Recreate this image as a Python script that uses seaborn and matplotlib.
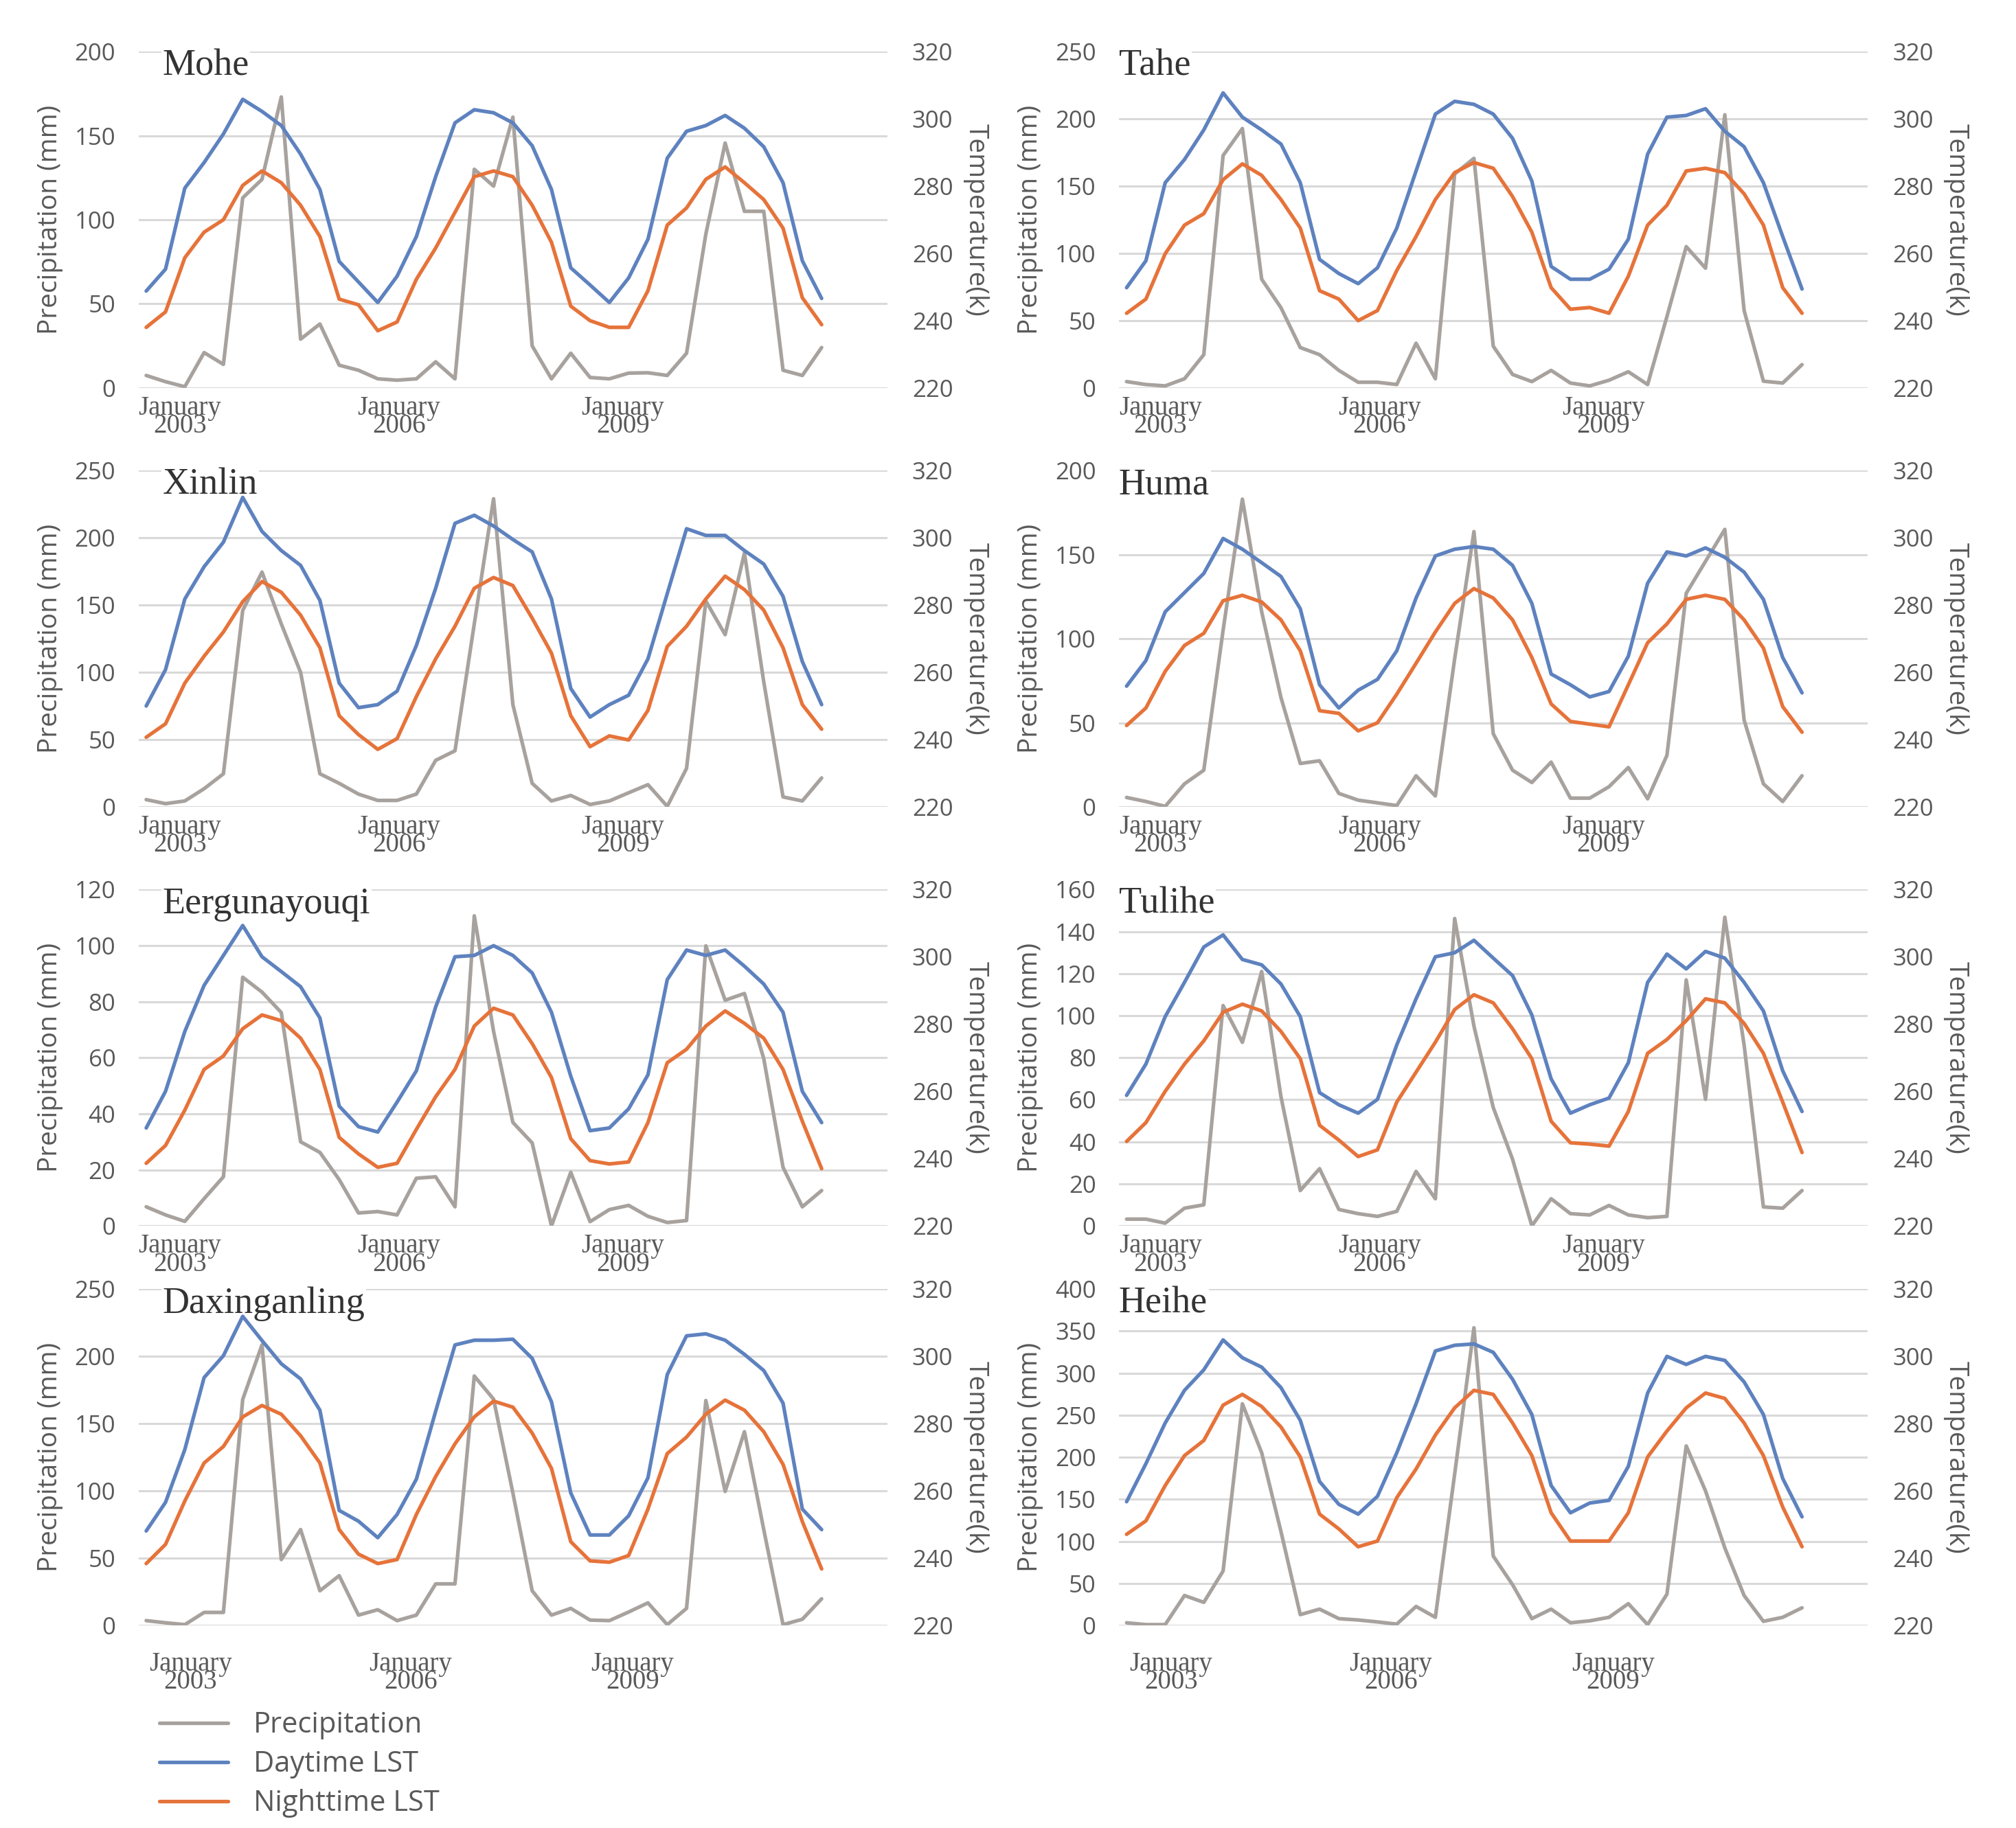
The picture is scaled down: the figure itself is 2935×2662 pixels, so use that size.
import numpy as np
import pandas as pd
import seaborn as sns
import matplotlib.pyplot as plt
from matplotlib.lines import Line2D

# monthly series for each station (36 steps, labelled every 3rd January)
tick_labels = ["January\n2003", "January\n2006", "January\n2009"]

mohe_precip = [7.4, 3.7, 0.7, 21, 14, 113, 124, 173, 29, 38, 13.5, 10.5, 5.4, 4.6, 5.4, 15.5, 5.4, 130,
               120, 161, 25, 5.4, 20.6, 6.2, 5.4, 8.8, 9, 7.4, 20.6, 91.5, 145.6, 105, 105, 10.5, 7.4, 24]
mohe_day = [248.8, 255.3, 279.4, 287, 295.5, 305.8, 302.2, 298, 289.5, 279, 257.6, 251.5, 245.4, 253.2,
            265, 282.8, 298.8, 302.7, 301.8, 298.8, 292, 279, 255.7, 250.6, 245.4, 252.7, 264.2, 288.3,
            296.3, 298, 301, 297.2, 291.7, 281, 257.8, 246.6]
mohe_night = [238, 242.6, 258.7, 266.3, 270, 280.2, 284.5, 281, 274.3, 265, 246.4, 244.7, 237, 239.6,
              252.3, 261.6, 272.2, 282.8, 284.5, 282.8, 274.3, 263.3, 244.3, 240, 238, 238, 248.9, 268.4,
              273.5, 282, 285.7, 281, 276, 267.5, 246.8, 238.8]

tahe_precip = [4.7, 2.5, 1.5, 6.8, 24.7, 172.7, 192.8, 80.8, 59.6, 30, 24.7, 13, 4.2, 4.2, 2.5, 33.2, 6.8,
               159, 170.6, 31, 10, 4.7, 13, 3.6, 1.5, 5.7, 12, 2.5, 53, 105, 89, 203, 57.5, 5, 3.6, 17.3]
tahe_day = [249.8, 257.8, 281, 287.9, 296.7, 307.7, 300.5, 296.7, 292.5, 281, 258.2, 254, 251, 255.7,
            267.5, 284.5, 301.4, 305.2, 304.3, 301.4, 294.2, 281.5, 256.1, 252.3, 252.3, 255.3, 264.2,
            289.5, 300.5, 301, 303, 296.3, 291.7, 281, 265, 249.4]
tahe_night = [242.2, 246.4, 259.9, 268.4, 271.8, 281.9, 286.6, 283.2, 276, 267.5, 248.9, 246.4, 240, 243,
              254.9, 265, 276, 284, 287, 285.3, 276.9, 266.3, 249.8, 243.4, 243.9, 242.2, 253.2, 268.4,
              274.3, 284.5, 285.3, 284, 277.7, 268.4, 249.8, 242.2]

xinlin_precip = [5.4, 2.4, 4.4, 13.5, 24.6, 146, 174.5, 136, 100, 24.6, 17.5, 9.5, 4.8, 4.8, 9.5, 34.6,
                 41.7, 136, 229, 76, 17.5, 4.4, 8.5, 1.8, 4.4, 10.5, 16.5, 0.4, 28.6, 153, 128, 188.6, 93,
                 7.4, 4.4, 21.5]
xinlin_day = [250, 260.8, 281.8, 291.4, 298.7, 312, 301.9, 296.2, 291.8, 281.4, 256.8, 249.5, 250.4, 254.4,
              268, 285, 304.3, 306.7, 303.5, 299.5, 295.8, 281.8, 255.2, 246.7, 250.4, 253.2, 264, 283.4,
              302.7, 300.7, 300.7, 296.2, 292.2, 282.6, 263.2, 250.4]
xinlin_night = [240.7, 244.7, 256.8, 264.8, 272, 281, 287, 283.8, 277, 267.3, 247.1, 241.5, 237.1, 240.3,
                252.8, 264, 273.7, 285, 288.2, 285.8, 276.1, 265.7, 247.1, 237.9, 241.1, 239.9, 248.7,
                267.7, 273.7, 281.8, 288.6, 284.6, 278.5, 267.3, 250.4, 243.1]

huma_precip = [5.6, 3.2, 0.3, 13.7, 21.8, 105, 183, 116, 65, 25.8, 27.4, 8, 4, 2.4, 0.8, 18.5, 6.5, 88,
               163.7, 43.5, 21.8, 14.5, 26.6, 5.2, 5.2, 12, 23.4, 4.8, 30.6, 127, 146, 165, 51.6, 13.7,
               3.2, 18.5]
huma_day = [255.9, 263.5, 278, 283.7, 289.4, 299.8, 296.6, 292.6, 288.5, 278.9, 256.3, 249.4, 254.7, 257.9,
            266.4, 282.1, 294.6, 296.6, 297.4, 296.6, 291.8, 280.5, 259.5, 256.3, 252.7, 254.3, 264.8,
            286.5, 295.8, 294.6, 297, 294.2, 289.8, 281.7, 264.4, 253.9]
huma_night = [244.2, 249.4, 260.3, 268, 271.6, 281.3, 282.9, 280.9, 275.6, 266.4, 248.6, 247.8, 242.6, 245,
              253.5, 262.7, 272, 280.5, 284.9, 282.1, 275.6, 264.4, 250.6, 245.4, 244.6, 243.8, 256.3,
              268.8, 274.4, 281.7, 282.9, 281.7, 275.6, 267.2, 249.8, 242.2]

eerg_precip = [6.8, 3.9, 1.6, 9.7, 17.5, 88.7, 83.4, 76.1, 30, 26.2, 16.5, 4.6, 5.1, 3.9, 17, 17.5, 6.8,
               110.6, 69.4, 36.9, 29.6, 0, 19.1, 1.5, 5.8, 7.3, 3.4, 1.2, 1.9, 99.9, 80.5, 82.9, 59.7, 20.9,
               6.8, 12.6]
eerg_day = [249.1, 260, 277.8, 291.5, 300.4, 309.3, 300, 295.6, 291.1, 281.8, 255.6, 249.5, 247.9, 256.8,
            266.1, 285.1, 300, 300.4, 303.3, 300.4, 295.2, 283.5, 264.5, 248.3, 249.1, 254.8, 264.9, 293.2,
            302, 300.4, 302, 297.2, 291.9, 283.5, 260, 250.7]
eerg_night = [238.6, 243.9, 254.4, 266.5, 270.5, 278.6, 282.7, 281, 275.8, 266.5, 246.3, 241.4, 237.4,
              238.6, 248.7, 258.4, 266.5, 279.4, 284.7, 282.7, 274.2, 264.1, 245.9, 239.4, 238.4, 239,
              250.7, 268.5, 272.5, 279.4, 283.9, 280.2, 275.8, 266.5, 251.1, 237]

tulihe_precip = [3.2, 3.2, 1.3, 8.4, 10, 104.8, 87.3, 121, 61.4, 16.8, 27.2, 7.8, 5.8, 4.5, 6.9, 25.9, 12.9,
                 146.2, 95, 56.3, 31.7, 0, 12.9, 5.8, 5.2, 9.7, 5.2, 3.9, 4.5, 117, 60.2, 146.8, 86, 9,
                 8.4, 16.8]
tulihe_day = [258.8, 268.1, 282.2, 292.4, 302.9, 306.5, 299.2, 297.6, 291.9, 282.2, 259.6, 256, 253.5,
              257.6, 273.8, 287.5, 300, 301.2, 304.9, 299.6, 294.4, 282.7, 263.7, 253.5, 256, 258, 268.5,
              292.4, 300.8, 296.4, 301.6, 299.6, 292.4, 283.9, 266.1, 254]
tulihe_night = [245.1, 250.7, 260, 268.1, 275, 283.5, 285.9, 283.9, 277.8, 269.7, 249.9, 245.5, 240.6,
                242.6, 256.8, 265.7, 274.6, 284.3, 288.7, 286.3, 278.6, 269.7, 251.1, 244.7, 244.3, 243.7,
                254, 271.3, 275.4, 281, 287.5, 286.3, 280.2, 271.3, 256.8, 241.8]

daxing_precip = [3.6, 2, 0.6, 9.7, 9.7, 168, 208.6, 49, 71.3, 25.8, 37, 7.7, 11.7, 3.6, 7.7, 30.9, 30.9,
                 185.4, 168.2, 98.5, 25.8, 7.7, 12.7, 4, 3.6, 10, 16.8, 0.6, 12.7, 167.2, 99.6, 144, 71.3,
                 0.6, 4.6, 19.8]
daxing_day = [248.1, 256.6, 272.3, 293.7, 300.2, 311.9, 304.7, 297.8, 293.3, 284, 254.2, 251, 246.1, 253,
              263.5, 283.7, 303.4, 304.8, 304.8, 305.1, 299.4, 286.5, 259.4, 246.9, 246.9, 252.6, 263.9,
              294.6, 306.1, 306.7, 304.8, 300.6, 295.8, 286.1, 254.6, 248.5]
daxing_night = [238.4, 244.1, 257, 268.3, 273.2, 282, 285.4, 282.8, 276.4, 268.3, 248.5, 241.2, 238.4,
                239.6, 253, 264.3, 274, 282, 286.7, 284.9, 277.2, 266.7, 244.9, 239.2, 238.8, 240.8, 254.6,
                271.1, 276, 282.8, 287, 284, 277.6, 267.9, 250.9, 236.8]

heihe_precip = [3.2, 1, 1, 35.6, 27.5, 64.7, 263.6, 205.4, 111.6, 12.9, 19.4, 8.1, 6.5, 4.2, 1.6, 22.6,
                9.7, 180, 354, 82.5, 48.5, 8.1, 19.4, 3.2, 5.5, 9.7, 25.9, 1, 37.2, 213.5, 160, 92.2, 35.6,
                4.9, 9.7, 21]
heihe_day = [256.8, 268.1, 280.2, 289.9, 296, 304.9, 299.6, 296.8, 290.7, 281, 262.8, 256, 253.1, 258.4,
             271.3, 285.9, 301.6, 303.3, 303.7, 301.2, 293.2, 282.7, 261.6, 253.5, 256.4, 257.2, 267.3,
             289.1, 300, 297.6, 300, 298.8, 292.4, 282.7, 263.7, 252.3]
heihe_night = [247.1, 251.1, 261.6, 270.5, 275, 285.5, 288.7, 285.1, 279, 270.1, 253.1, 248.7, 243.4,
               245.1, 258, 266.5, 276.6, 284.7, 289.9, 288.7, 280.2, 270.5, 253.5, 245.1, 245.1, 245.1,
               253.5, 270.1, 277.8, 284.7, 289.1, 287.5, 280.2, 270.5, 255.2, 243.4]

# station name, data, left axis max and step
stations = [
    ("Mohe", mohe_precip, mohe_day, mohe_night, 200, 50),
    ("Tahe", tahe_precip, tahe_day, tahe_night, 250, 50),
    ("Xinlin", xinlin_precip, xinlin_day, xinlin_night, 250, 50),
    ("Huma", huma_precip, huma_day, huma_night, 200, 50),
    ("Eergunayouqi", eerg_precip, eerg_day, eerg_night, 120, 20),
    ("Tulihe", tulihe_precip, tulihe_day, tulihe_night, 160, 20),
    ("Daxinganling", daxing_precip, daxing_day, daxing_night, 250, 50),
    ("Heihe", heihe_precip, heihe_day, heihe_night, 400, 50),
]

c_precip = "#A8A29E"
c_day = "#5E82BF"
c_night = "#E6733A"
c_text = "#595959"
lw = 3.8

sns.set_theme(style="white")
plt.rcParams['font.family'] = ['Open Sans', 'DejaVu Sans']

fig = plt.figure(figsize=(29.35, 26.62), dpi=100)

lefts = [0.0687, 0.555]
bottoms = [0.7878, 0.5586, 0.3294, 0.1108]
w, h = 0.3714, 0.184

for k, (name, precip, day, night, ymax, ystep) in enumerate(stations):
    row, col = divmod(k, 2)
    ax = fig.add_axes([lefts[col], bottoms[row], w, h])
    ax2 = ax.twinx()

    df = pd.DataFrame({"month": np.arange(len(precip)), "precip": precip,
                       "day": day, "night": night})

    sns.lineplot(data=df, x="month", y="precip", ax=ax, color=c_precip, linewidth=lw)
    sns.lineplot(data=df, x="month", y="day", ax=ax2, color=c_day, linewidth=lw)
    sns.lineplot(data=df, x="month", y="night", ax=ax2, color=c_night, linewidth=lw)

    ax.set_xlim(-0.4, 38.4)
    ax.set_ylim(0, ymax)
    ax.set_yticks(np.arange(0, ymax + 1, ystep))
    ax2.set_ylim(220, 320)
    ax2.set_yticks(np.arange(220, 321, 20))

    ax.grid(axis="y", color="#D9D9D9", linewidth=2.2)
    ax.grid(axis="x", visible=False)
    ax2.grid(False)
    ax.set_axisbelow(True)
    for a in (ax, ax2):
        for s in a.spines.values():
            s.set_visible(False)

    # x labels sit a bit right of the first month, bottom row slightly lower
    if row == 3:
        tpos, xpad = [2.3, 13.7, 25.2], 27
    else:
        tpos, xpad = [1.75, 13.1, 24.7], 8
    ax.set_xticks(tpos)
    ax.set_xticklabels(tick_labels, fontfamily="Liberation Serif", fontsize=28,
                       linespacing=0.62, color=c_text)
    ax.tick_params(axis="x", length=0, pad=xpad)
    ax.tick_params(axis="y", length=0, pad=24, labelsize=25, labelcolor=c_text)
    ax2.tick_params(axis="y", length=0, pad=26, labelsize=25, labelcolor=c_text)

    ax.set_xlabel("")
    ax.set_ylabel("Precipitation (mm)", fontsize=28, color=c_text, labelpad=12)
    ax2.set_ylabel("Temperature(k)", fontsize=28, color=c_text, rotation=270,
                   va="bottom", labelpad=10)

    tx = 0.032 if col == 0 else 0.0
    ax.text(tx, 0.93, name, transform=ax.transAxes, fontfamily="Liberation Serif",
            fontsize=39, color="#333333", va="baseline", ha="left", zorder=3,
            bbox=dict(facecolor="white", edgecolor="none", pad=1))

handles = [Line2D([], [], color=c_precip, linewidth=lw),
           Line2D([], [], color=c_day, linewidth=lw),
           Line2D([], [], color=c_night, linewidth=lw)]
leg = fig.legend(handles, ["Precipitation", "Daytime LST", "Nighttime LST"],
                 loc="center left", bbox_to_anchor=(0.079, 0.0349), frameon=False,
                 fontsize=30, handlelength=2.4, handletextpad=0.9, labelspacing=0.36,
                 borderpad=0, borderaxespad=0)
for t in leg.get_texts():
    t.set_color(c_text)

plt.savefig("out.png", dpi=100)
